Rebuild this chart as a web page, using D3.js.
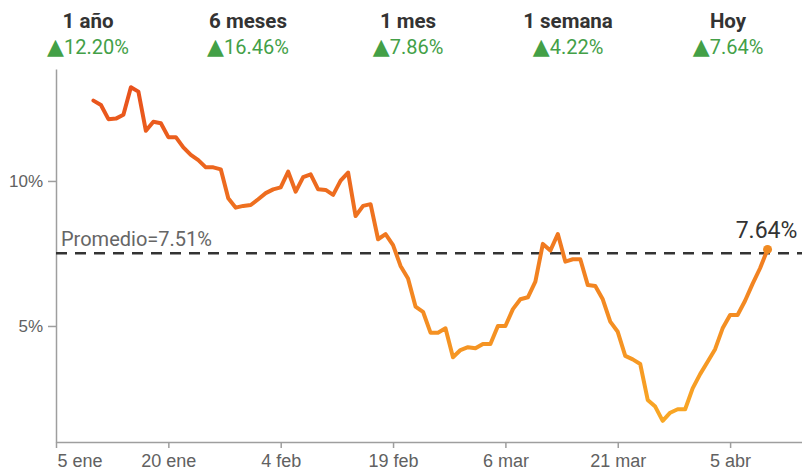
<!DOCTYPE html>
<html>
<head>
<meta charset="utf-8">
<script src="https://cdn.jsdelivr.net/npm/d3@7"></script>
<style>
  body { margin: 0; background: #fff; }
  svg { display: block; font-family: Roboto, "Noto Sans", sans-serif; }
  .axis path, .axis line { stroke: #9e9e9e; stroke-width: 1.5; }
  .axis text { fill: #616161; }
</style>
</head>
<body>
<div id="chart"></div>
<script>
// header summary
var periods = ['1 año', '6 meses', '1 mes', '1 semana', 'Hoy'];
var changes = [12.20, 16.46, 7.86, 4.22, 7.64];

// daily series, first value on 10 ene
var startDate = '2021-01-10';
var values = [
  12.77, 12.62, 12.13, 12.15, 12.28, 13.23, 13.08, 11.73, 12.04, 11.99,
  11.51, 11.51, 11.16, 10.90, 10.72, 10.47, 10.47, 10.40, 9.40, 9.08,
  9.14, 9.17, 9.37, 9.58, 9.71, 9.78, 10.32, 9.63, 10.13, 10.23,
  9.71, 9.69, 9.52, 10.01, 10.29, 8.79, 9.14, 9.20, 7.99, 8.17,
  7.79, 7.07, 6.64, 5.67, 5.49, 4.77, 4.77, 4.92, 3.92, 4.17,
  4.27, 4.23, 4.38, 4.38, 5.00, 5.00, 5.58, 5.92, 5.99, 6.53,
  7.83, 7.60, 8.17, 7.22, 7.30, 7.30, 6.41, 6.38, 5.92, 5.15,
  4.80, 3.97, 3.85, 3.69, 2.45, 2.22, 1.73, 2.01, 2.13, 2.13,
  2.85, 3.34, 3.77, 4.20, 4.92, 5.38, 5.38, 5.87, 6.45, 6.99,
  7.64
];
var average = 7.51;

// axis ticks
var tickDates = ['2021-01-05', '2021-01-20', '2021-02-04', '2021-02-19', '2021-03-06', '2021-03-21', '2021-04-05'];
var tickLabels = ['5 ene', '20 ene', '4 feb', '19 feb', '6 mar', '21 mar', '5 abr'];
var yTicks = [5, 10];

var width = 802;
var height = 475;

var parseDate = d3.timeParse('%Y-%m-%d');
var start = parseDate(startDate);
var data = values.map(function(v, i) {
  return { date: d3.timeDay.offset(start, i), value: v };
});

var svg = d3.select('#chart')
  .append('svg')
  .attr('width', width)
  .attr('height', height);

var x = d3.scaleTime()
  .domain([parseDate('2021-01-05'), parseDate('2021-04-15')])
  .range([56, 805]);

var y = d3.scaleLinear()
  .domain([1, 13.86])
  .range([442, 69]);

// gradient from red-orange (high) to yellow-orange (low)
svg.append('linearGradient')
  .attr('id', 'line-gradient')
  .attr('gradientUnits', 'userSpaceOnUse')
  .attr('x1', 0).attr('y1', y(13.3))
  .attr('x2', 0).attr('y2', y(1.7))
  .selectAll('stop')
  .data([
    { offset: '0%', color: '#e8511c' },
    { offset: '100%', color: '#f9a825' }
  ])
  .enter().append('stop')
  .attr('offset', function(d) { return d.offset; })
  .attr('stop-color', function(d) { return d.color; });

// header
var col = d3.scaleBand()
  .domain(periods)
  .range([8, 808]);

var head = svg.selectAll('.head')
  .data(periods)
  .enter().append('g')
  .attr('class', 'head')
  .attr('transform', function(d) {
    return 'translate(' + (col(d) + col.bandwidth() / 2) + ',0)';
  });

head.append('text')
  .attr('y', 28)
  .attr('text-anchor', 'middle')
  .style('font-size', '20.5px')
  .style('font-weight', 'bold')
  .style('fill', '#333')
  .text(function(d) { return d; });

var val = head.append('text')
  .attr('y', 54)
  .attr('text-anchor', 'middle')
  .style('font-size', '20px')
  .style('fill', '#43a047');

val.append('tspan')
  .style('font-family', '"DejaVu Sans", sans-serif')
  .style('font-size', '22px')
  .text('▲');

val.append('tspan')
  .text(function(d, i) { return changes[i].toFixed(2) + '%'; });

// axes
var xAxis = d3.axisBottom(x)
  .tickValues(tickDates.map(parseDate))
  .tickFormat(function(d, i) { return tickLabels[i]; })
  .tickSize(6)
  .tickPadding(6)
  .tickSizeOuter(0);

var gx = svg.append('g')
  .attr('class', 'x axis')
  .attr('transform', 'translate(0,' + y(1) + ')')
  .call(xAxis);

gx.selectAll('text').style('font-size', '18px');
gx.selectAll('.tick').filter(function(d, i) { return i === 0; })
  .select('text')
  .attr('text-anchor', 'start')
  .attr('x', 1);

var yAxis = d3.axisLeft(y)
  .tickValues(yTicks)
  .tickFormat(function(d) { return d + '%'; })
  .tickSize(8)
  .tickPadding(5)
  .tickSizeOuter(0);

svg.append('g')
  .attr('class', 'y axis')
  .attr('transform', 'translate(56,0)')
  .call(yAxis)
  .selectAll('text')
  .style('font-size', '17px');

// average line
svg.append('line')
  .attr('x1', 56)
  .attr('x2', width)
  .attr('y1', y(average))
  .attr('y2', y(average))
  .attr('stroke', '#333')
  .attr('stroke-width', 2.6)
  .attr('stroke-dasharray', '11,8');

svg.append('text')
  .attr('x', 61)
  .attr('y', y(average) - 7)
  .style('font-size', '20px')
  .style('fill', '#666')
  .text('Promedio=' + average.toFixed(2) + '%');

// series line
var line = d3.line()
  .x(function(d) { return x(d.date); })
  .y(function(d) { return y(d.value); });

svg.append('path')
  .datum(data)
  .attr('fill', 'none')
  .attr('stroke', 'url(#line-gradient)')
  .attr('stroke-width', 4)
  .attr('stroke-linejoin', 'round')
  .attr('stroke-linecap', 'round')
  .attr('d', line);

// last point
var last = data[data.length - 1];

svg.append('circle')
  .attr('cx', x(last.date))
  .attr('cy', y(last.value))
  .attr('r', 4.5)
  .attr('fill', '#f08a22');

svg.append('text')
  .attr('x', x(last.date) - 1)
  .attr('y', y(last.value) - 11)
  .attr('text-anchor', 'middle')
  .style('font-size', '23px')
  .style('fill', '#333')
  .text(last.value.toFixed(2) + '%');
</script>
</body>
</html>
